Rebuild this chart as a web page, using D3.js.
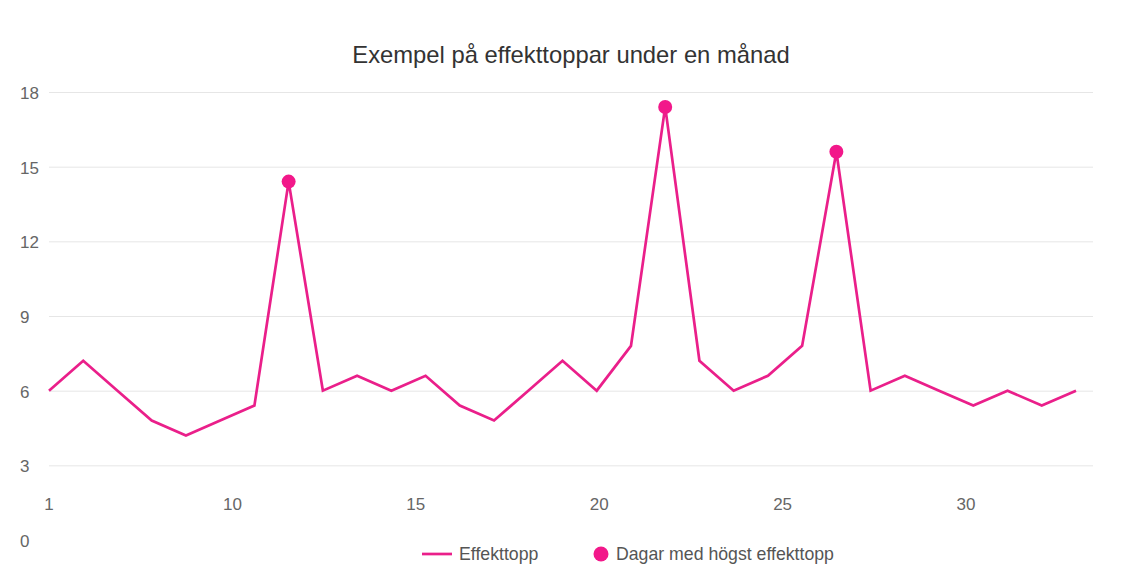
<!DOCTYPE html>
<html><head><meta charset="utf-8">
<script src="https://cdn.jsdelivr.net/npm/d3@7"></script>
<style>body{margin:0;background:#fff;}svg{display:block;font-family:"Liberation Sans",Arial,sans-serif;}</style>
</head><body><svg id="c" width="1146" height="584"></svg>
<script>
const title = "Exempel på effekttoppar under en månad";
const days = d3.range(1, 32);
const values = [6, 7.2, 6.0, 4.8, 4.2, 4.8, 5.4, 14.4, 6, 6.6, 6, 6.6, 5.4, 4.8, 6.0, 7.2, 6, 7.8, 17.4, 7.2, 6, 6.6, 7.8, 15.6, 6, 6.6, 6.0, 5.4, 6, 5.4, 6];
const peakDays = [8, 19, 24];
const yTicks = [0, 3, 6, 9, 12, 15, 18];
const xTickValues = [5, 10, 15, 20, 25, 30];
const xTickLabels = ["1", "10", "15", "20", "25", "30"];
const seriesNames = ["Effekttopp", "Dagar med högst effekttopp"];
const lineColor = "#ea1f8a", dotColor = "#f2188a";

const svg = d3.select("#c");
const x = d3.scaleLinear().domain([1, 31]).range([49, 1076]);
const xAxisScale = d3.scaleLinear().domain([5, 30]).range([49, 966]);
const y = d3.scaleLinear().domain([0, 18]).range([540, 92]);

svg.append("text").attr("x", 571).attr("y", 63).attr("text-anchor", "middle")
  .attr("font-size", 23.8).attr("fill", "#333").text(title);

// gridlines
svg.append("g").selectAll("line").data(yTicks.filter(d => d > 0)).join("line")
  .attr("x1", 49).attr("x2", 1093).attr("y1", d => y(d) + 0.5).attr("y2", d => y(d) + 0.5)
  .attr("stroke", "#e6e6e6").attr("stroke-width", 1);

// y labels
svg.append("g").selectAll("text").data(yTicks).join("text")
  .attr("x", 20).attr("y", d => y(d) + 7).attr("font-size", 17).attr("fill", "#666").text(d => d);

// x labels
svg.append("g").selectAll("text").data(xTickValues).join("text")
  .attr("x", d => xAxisScale(d)).attr("y", 510).attr("text-anchor", "middle")
  .attr("font-size", 17).attr("fill", "#666").text((d, i) => xTickLabels[i]);

// line
const line = d3.line().x((d, i) => x(days[i])).y(d => y(d));
svg.append("path").datum(values).attr("d", line).attr("fill", "none")
  .attr("stroke", lineColor).attr("stroke-width", 2.7).attr("stroke-linejoin", "miter");

// peak markers
svg.append("g").selectAll("circle").data(peakDays).join("circle")
  .attr("cx", d => x(d)).attr("cy", d => y(values[d - 1])).attr("r", 7).attr("fill", dotColor);

// legend
const lg = svg.append("g");
lg.append("line").attr("x1", 422).attr("x2", 452).attr("y1", 554).attr("y2", 554)
  .attr("stroke", lineColor).attr("stroke-width", 2.7);
lg.append("text").attr("x", 459).attr("y", 560).attr("font-size", 17.7).attr("fill", "#555").text(seriesNames[0]);
lg.append("circle").attr("cx", 601).attr("cy", 554).attr("r", 7.5).attr("fill", dotColor);
lg.append("text").attr("x", 616).attr("y", 560).attr("font-size", 17.7).attr("fill", "#555").text(seriesNames[1]);
</script></body></html>
